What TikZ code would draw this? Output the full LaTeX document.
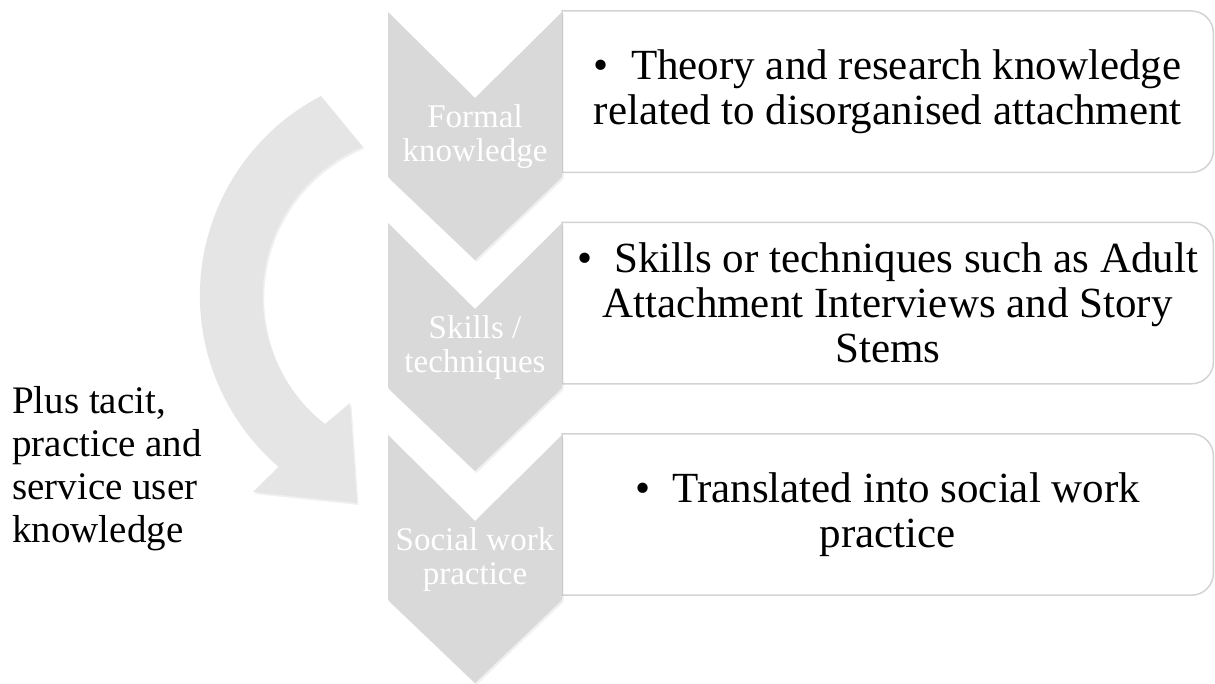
\documentclass[tikz,border=0pt]{standalone}
\usepackage{fontspec}
\setmainfont{Liberation Serif}
\usetikzlibrary{positioning,shadows}
\setlength{\parindent}{0pt}
\definecolor{chevgray}{RGB}{217,217,217}
\definecolor{arrowgray}{RGB}{229,229,229}
\definecolor{boxgray}{RGB}{211,211,211}
\tikzset{
	flow/.style = {
		drop shadow = {opacity = .12, shadow xshift = 1.5pt, shadow yshift = -2pt}
	}
}

\begin{document}
\begin{tikzpicture}[
	x = 1pt, y = -1pt,
	chevron/.style = {
		flow,
		fill = chevgray
	},
	chev_label/.style = {
		text = white,
		align = flush center,
		inner sep = 0pt,
		font = \fontsize{33}{34}\selectfont
	},
	box/.style = {
		draw = boxgray,
		line width = 1.5pt
	},
	box_text/.style = {
		minimum width = 651pt,
		minimum height = 161pt,
		text width = 651pt,
		inner sep = 0pt,
		align = flush center,
		font = \fontsize{43}{45}\selectfont
	}
	]
	\useasboundingbox (0,0) rectangle (1215,684);
	
	\node (box_1) [box_text, anchor = north west] at (562,11) {\textbullet\hspace{22pt}Theory and research knowledge\\related to disorganised attachment};
	\draw[box] (box_1.north west) -- (box_1.north) [rounded corners = 22pt] -- (box_1.north east) -- (box_1.south east) -- (box_1.south) [sharp corners] -- (box_1.south west) -- cycle;
	
	\node (box_2) [box_text, below = 50pt of box_1] {\textbullet\hspace{22pt}Skills or techniques such as Adult\\Attachment Interviews and Story\\Stems};
	\draw[box] (box_2.north west) -- (box_2.north) [rounded corners = 22pt] -- (box_2.north east) -- (box_2.south east) -- (box_2.south) [sharp corners] -- (box_2.south west) -- cycle;
	
	\node (box_3) [box_text, below = 50pt of box_2] {\textbullet\hspace{22pt}Translated into social work\\practice};
	\draw[box] (box_3.north west) -- (box_3.north) [rounded corners = 22pt] -- (box_3.north east) -- (box_3.south east) -- (box_3.south) [sharp corners] -- (box_3.south west) -- cycle;
	
	
	\path[chevron] (388,12) -- (475,98) -- (562,12) -- (562,177) -- (475,260) -- (388,177) -- cycle;
	\node (step_1) [chev_label] at (475,137) {Formal\\knowledge};
	
	\path[chevron] (388,223) -- (475,309) -- (562,223) -- (562,388) -- (475,471) -- (388,388) -- cycle;
	\node (step_2) [chev_label] at (475,348) {Skills /\\techniques};
	
	\path[chevron] (388,435) -- (475,521) -- (562,435) -- (562,600) -- (475,683) -- (388,600) -- cycle;
	\node (step_3) [chev_label] at (475,560) {Social work\\practice};
	
	
	\path[flow, fill = arrowgray] (321,96) arc[start angle = -117.5, end angle = -229.5, radius = 225] -- (253,492) -- (357,503) -- (350,403) -- (325,424) arc[start angle = -232, end angle = -112.5, radius = 162] -- cycle;
	\node (tacit) [anchor = north west, align = flush left, inner sep = 0pt, font = \fontsize{39}{43}\selectfont] at (12,386) {Plus tacit,\\practice and\\service user\\knowledge};
	
\end{tikzpicture}
\end{document}
